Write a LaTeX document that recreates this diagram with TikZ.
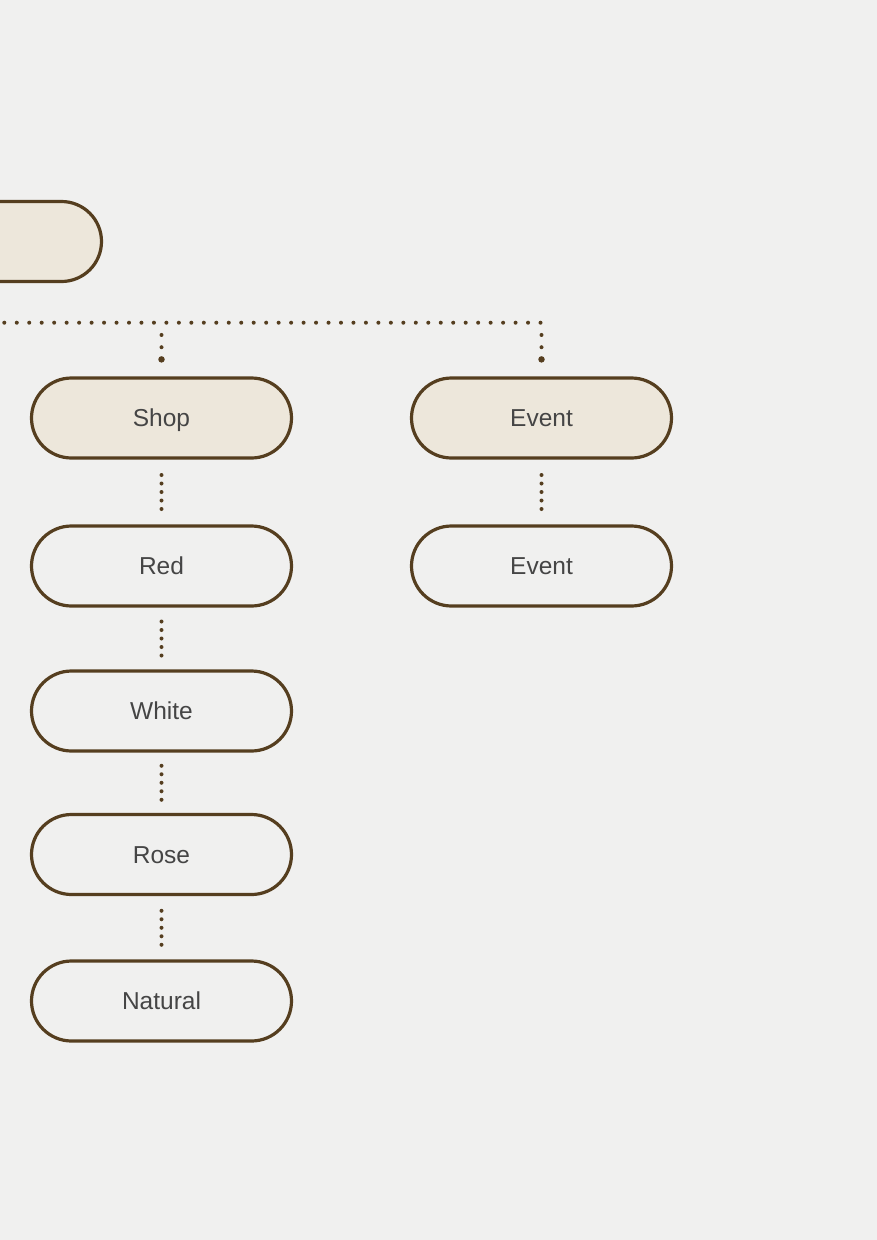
\documentclass[tikz,border=0pt]{standalone}
\usepackage{fontspec}
\setmainfont{Liberation Sans}
\usetikzlibrary{shapes.misc,calc,decorations.markings}
\definecolor{paper}{HTML}{F0F0EF}
\definecolor{brownline}{HTML}{553E1F}
\definecolor{beige}{HTML}{EDE7DB}
\definecolor{txt}{HTML}{454545}
\begin{document}
\begin{tikzpicture}[x=1pt,y=-1pt,
  pill/.style={rounded rectangle, draw=brownline, line width=3.2pt,
    minimum width=260pt, minimum height=80pt, inner sep=0pt,
    text height=17.2pt, text depth=0pt,
    font=\fontsize{24.5}{28}\selectfont, text=txt},
  pillfill/.style={pill, fill=beige},
  dotpath/.style={decoration={markings,
      mark=between positions 0 and 1 step #1 with {\fill[brownline] (0,0) circle (2pt);}},
    decorate},
  enddot/.style={circle, fill=brownline, inner sep=0pt, minimum size=6.5pt}]
\useasboundingbox (0,0) rectangle (877,1240);
\fill[paper] (0,0) rectangle (877,1240);
\clip (0,0) rectangle (877,1240);

\node[pillfill] (root) at (-28.5,241.5) {};
\node[pillfill] (shop) at (161.5,418) {Shop};
\node[pillfill] (event) at (541.5,418) {Event};
\node[pill] (red) at (161.5,566) {Red};
\node[pill] (event2) at (541.5,566) {Event};
\node[pill] (white) at (161.5,711) {White};
\node[pill] (rose) at (161.5,854.5) {Rose};
\node[pill] (natural) at (161.5,1001) {Natural};

% bus
\coordinate (busL) at (4.3,322.7);
\coordinate (busR) at (event.north |- busL);
\path[dotpath=12.47pt] (busL) -- ($(busR)+(0.3,0)$);

% drops
\coordinate (busS) at (shop.north |- busL);
\coordinate (dropS) at ($(shop.north)+(0,-17)$);
\path[dotpath=12.27pt] ($(busS)+(0,12.27)$) -- (dropS);
\node[enddot] (dotS) at (dropS) {};

\coordinate (dropE) at ($(event.north)+(0,-17)$);
\path[dotpath=12.27pt] ($(busR)+(0,12.27)$) -- (dropE);
\node[enddot] (dotE) at (dropE) {};

% links
\path[dotpath=8.5pt] ($(shop.south)!0.5!(red.north)+(0,-17)$) -- ($(shop.south)!0.5!(red.north)+(0,17.3)$);
\path[dotpath=8.5pt] ($(red.south)!0.5!(white.north)+(0,-17)$) -- ($(red.south)!0.5!(white.north)+(0,17.3)$);
\path[dotpath=8.5pt] ($(white.south)!0.5!(rose.north)+(0,-17)$) -- ($(white.south)!0.5!(rose.north)+(0,17.3)$);
\path[dotpath=8.5pt] ($(rose.south)!0.5!(natural.north)+(0,-17)$) -- ($(rose.south)!0.5!(natural.north)+(0,17.3)$);
\path[dotpath=8.5pt] ($(event.south)!0.5!(event2.north)+(0,-17)$) -- ($(event.south)!0.5!(event2.north)+(0,17.3)$);
\end{tikzpicture}
\end{document}
